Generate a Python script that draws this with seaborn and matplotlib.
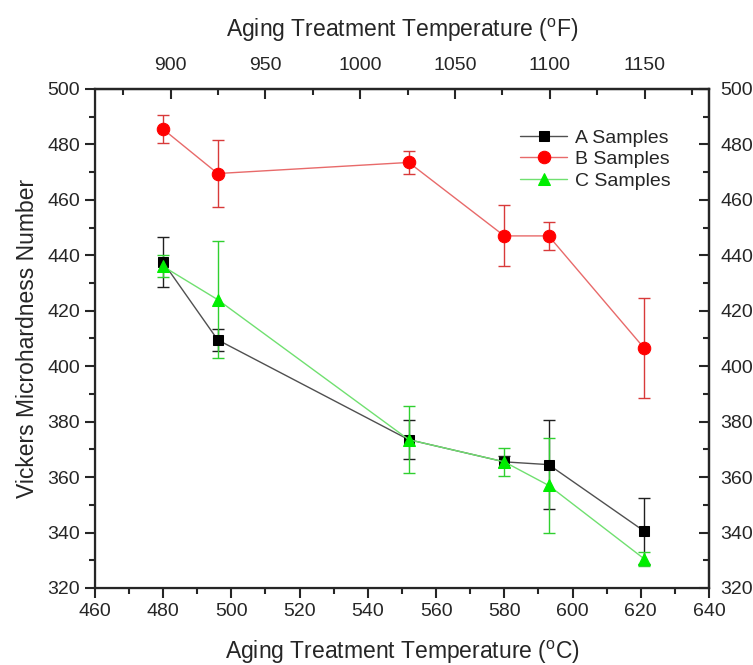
import matplotlib
matplotlib.use("Agg")
import matplotlib.pyplot as plt
from matplotlib.ticker import MultipleLocator
import seaborn as sns
import pandas as pd

temps_c = [480, 496, 552, 580, 593, 621]
a_vals = [437.5, 409.5, 373.5, 365.5, 364.5, 340.5]
a_err = [9, 4, 7, 2, 16, 12]
b_vals = [485.5, 469.5, 473.5, 447, 447, 406.5]
b_err = [5, 12, 4, 11, 5, 18]
c_vals = [436, 424, 373.5, 365.5, 357, 330.5]
c_err = [4, 21, 12, 5, 17, 2.5]
series_names = ["A Samples", "B Samples", "C Samples"]
y_ticks = [320, 340, 360, 380, 400, 420, 440, 460, 480, 500]
x_ticks = [460, 480, 500, 520, 540, 560, 580, 600, 620, 640]
f_ticks = [900, 950, 1000, 1050, 1100, 1150]

sns.set_style("ticks")
plt.rcParams['font.family'] = ['Liberation Sans', 'DejaVu Sans']
plt.rcParams['mathtext.fontset'] = 'custom'
plt.rcParams['mathtext.rm'] = 'Liberation Sans'

fig = plt.figure(figsize=(7.53, 6.65), dpi=100)
ax = fig.add_axes([0.126, 0.1158, 0.8156, 0.7504])

styles = [
    dict(vals=a_vals, err=a_err, marker='s', mc='#000000', lc='#505050', ec='#202020', ms=7),
    dict(vals=b_vals, err=b_err, marker='o', mc='#ff0000', lc='#e86a6a', ec='#d83a3a', ms=9),
    dict(vals=c_vals, err=c_err, marker='^', mc='#00ee00', lc='#70e070', ec='#30d030', ms=9),
]

for name, st in zip(series_names, styles):
    df = pd.DataFrame({'T': temps_c, 'HV': st['vals']})
    ax.errorbar(temps_c, st['vals'], yerr=st['err'], fmt='none',
                ecolor=st['ec'], elinewidth=1.0, capsize=4, capthick=1.0, zorder=2)
    sns.lineplot(data=df, x='T', y='HV', ax=ax, color=st['lc'], linewidth=1.0,
                 marker=st['marker'], markersize=st['ms'], markerfacecolor=st['mc'],
                 markeredgecolor=st['mc'], label=name, zorder=3)

ax.set_xlim(460, 640)
ax.set_ylim(320, 500)
ax.set_xticks(x_ticks)
ax.set_yticks(y_ticks)
ax.xaxis.set_minor_locator(MultipleLocator(10))
ax.yaxis.set_minor_locator(MultipleLocator(10))
ax.tick_params(axis='both', which='major', direction='out', length=7, width=1.5, labelsize=14)
ax.tick_params(axis='both', which='minor', direction='out', length=4, width=1.5)
for sp in ax.spines.values():
    sp.set_visible(True)
    sp.set_linewidth(1.6)

ax.set_xlabel(r'Aging Treatment Temperature ($\mathregular{^{o}}$C)', fontsize=16.5, labelpad=14)
ax.set_ylabel('Vickers Microhardness Number', fontsize=16.5, labelpad=6)

# right axis
axr = ax.twinx()
axr.set_ylim(320, 500)
axr.set_yticks(y_ticks)
axr.yaxis.set_minor_locator(MultipleLocator(10))
axr.tick_params(axis='y', which='major', direction='in', length=7, width=1.5, labelsize=14, pad=8)
axr.tick_params(axis='y', which='minor', direction='in', length=4, width=1.5)
axr.spines['right'].set_linewidth(1.6)

# top axis in Fahrenheit
def c2f(c):
    return c * 9.0 / 5.0 + 32.0

def f2c(f):
    return (f - 32.0) * 5.0 / 9.0

axt = ax.secondary_xaxis('top', functions=(c2f, f2c))
axt.set_xticks(f_ticks)
axt.xaxis.set_minor_locator(MultipleLocator(25))
axt.tick_params(axis='x', which='major', direction='in', length=7, width=1.5, labelsize=14, pad=11)
axt.tick_params(axis='x', which='minor', direction='in', length=4, width=1.5)
axt.spines['top'].set_linewidth(1.6)
axt.set_xlabel(r'Aging Treatment Temperature ($\mathregular{^{o}}$F)', fontsize=16.5, labelpad=14)

leg = ax.legend(loc='upper left', bbox_to_anchor=(0.68, 0.935), frameon=False,
                fontsize=14, handlelength=2.4, labelspacing=0.2, borderaxespad=0.0,
                handletextpad=0.4)

fig.savefig('out.png', dpi=100)
